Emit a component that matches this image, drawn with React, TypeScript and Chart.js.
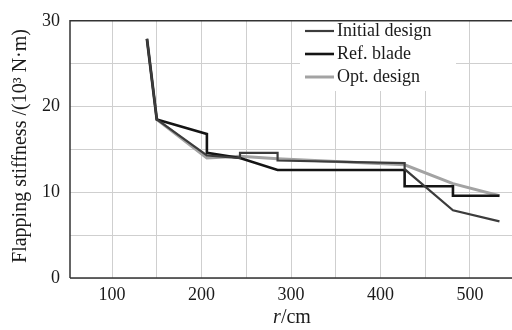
import React, { useEffect, useRef } from "react";
import { Chart, registerables } from "chart.js";

Chart.register(...registerables);

const seriesNames = ["Initial design", "Ref. blade", "Opt. design"];

const initX = [139, 150, 206, 243, 243, 285, 285, 427, 427, 481, 533];
const initY = [27.9, 18.5, 14.3, 14.0, 14.6, 14.6, 13.7, 13.4, 12.7, 7.9, 6.6];

const refX = [139, 150, 206, 206, 243, 285, 427, 427, 481, 481, 533];
const refY = [27.9, 18.5, 16.8, 14.6, 14.0, 12.6, 12.6, 10.7, 10.7, 9.6, 9.6];

const optX = [139, 150, 206, 243, 285, 427, 481, 533];
const optY = [27.9, 18.5, 14.0, 14.2, 13.9, 13.2, 11.0, 9.6];

const xGridValues = [100, 150, 200, 250, 300, 350, 400, 450, 500];
const xLabelValues = [100, 200, 300, 400, 500];
const yGridValues = [0, 5, 10, 15, 20, 25, 30];
const yLabelValues = [0, 10, 20, 30];

const colors = ["#3c3c3c", "#141414", "#a3a3a3"];
const widths = [2.2, 2.6, 3];

const FONT = "'Liberation Serif', 'DejaVu Serif', serif";

const toPts = (xs: number[], ys: number[]) => xs.map((x, i) => ({ x, y: ys[i] }));

const overlayPlugin = {
  id: "overlay",
  afterDraw(chart: any) {
    const { ctx, chartArea } = chart;
    ctx.save();

    // legend
    const lx = 300;
    const ly = 17;
    ctx.fillStyle = "#fff";
    ctx.fillRect(lx, ly, 156, 74);
    ctx.font = `18px ${FONT}`;
    ctx.textBaseline = "middle";
    ctx.textAlign = "left";
    seriesNames.forEach((name, i) => {
      const y = ly + 14 + i * 23;
      ctx.strokeStyle = colors[i];
      ctx.lineWidth = widths[i];
      ctx.beginPath();
      ctx.moveTo(lx + 5, y);
      ctx.lineTo(lx + 34, y);
      ctx.stroke();
      ctx.fillStyle = "#1a1a1a";
      ctx.fillText(name, lx + 37, y);
    });

    // frame
    ctx.strokeStyle = "#333";
    ctx.lineWidth = 1.5;
    ctx.beginPath();
    ctx.moveTo(chartArea.left, chartArea.bottom);
    ctx.lineTo(chartArea.left, chartArea.top);
    ctx.lineTo(chartArea.right, chartArea.top);
    ctx.stroke();
    ctx.beginPath();
    ctx.moveTo(chartArea.left, chartArea.bottom);
    ctx.lineTo(chartArea.right, chartArea.bottom);
    ctx.stroke();

    // y title
    ctx.save();
    ctx.translate(21, 146);
    ctx.rotate(-Math.PI / 2);
    ctx.textAlign = "center";
    ctx.textBaseline = "middle";
    ctx.fillStyle = "#1a1a1a";
    ctx.font = `20px ${FONT}`;
    ctx.fillText("Flapping stiffness /(10\u00b3 N\u00b7m)", 0, 0);
    ctx.restore();

    // x title: italic r + /cm
    ctx.fillStyle = "#1a1a1a";
    ctx.textBaseline = "middle";
    ctx.textAlign = "left";
    ctx.font = `italic 20px ${FONT}`;
    const rW = ctx.measureText("r").width;
    ctx.font = `20px ${FONT}`;
    const cmW = ctx.measureText("/cm").width;
    const start = 292 - (rW + cmW) / 2;
    ctx.font = `italic 20px ${FONT}`;
    ctx.fillText("r", start, 318);
    ctx.font = `20px ${FONT}`;
    ctx.fillText("/cm", start + rW, 318);
    ctx.restore();
  },
};

export default function App() {
  const ref = useRef<HTMLCanvasElement | null>(null);

  useEffect(() => {
    if (!ref.current) return;
    const chart = new Chart(ref.current, {
      type: "line",
      data: {
        datasets: [
          { label: seriesNames[0], data: toPts(initX, initY) },
          { label: seriesNames[1], data: toPts(refX, refY) },
          { label: seriesNames[2], data: toPts(optX, optY) },
        ].map((d, i) => ({
          ...d,
          borderColor: colors[i],
          backgroundColor: colors[i],
          borderWidth: widths[i],
          pointRadius: 0,
          tension: 0,
          fill: false,
        })) as any,
      },
      options: {
        animation: false,
        responsive: false,
        maintainAspectRatio: false,
        layout: { padding: { top: 13, right: 0, left: 0, bottom: 0 } },
        plugins: {
          legend: { display: false },
          tooltip: { enabled: false },
        },
        scales: {
          x: {
            type: "linear",
            min: 53,
            max: 547,
            afterBuildTicks: (axis: any) => {
              axis.ticks = xGridValues.map((v) => ({ value: v }));
            },
            afterFit: (axis: any) => {
              axis.height = 52;
            },
            ticks: {
              autoSkip: false,
              maxRotation: 0,
              padding: 6,
              color: "#1a1a1a",
              font: { family: FONT, size: 18 },
              callback: (v: any) => (xLabelValues.includes(Number(v)) ? String(v) : ""),
            },
            grid: { color: "#cfcfcf", lineWidth: 1, drawTicks: false },
            border: { display: false },
          },
          y: {
            type: "linear",
            min: 0,
            max: 30,
            afterBuildTicks: (axis: any) => {
              axis.ticks = yGridValues.map((v) => ({ value: v }));
            },
            afterFit: (axis: any) => {
              axis.width = 70;
            },
            ticks: {
              autoSkip: false,
              padding: 10,
              color: "#1a1a1a",
              font: { family: FONT, size: 18 },
              callback: (v: any) => (yLabelValues.includes(Number(v)) ? String(v) : ""),
            },
            grid: { color: "#cfcfcf", lineWidth: 1, drawTicks: false },
            border: { display: false },
          },
        },
      },
      plugins: [overlayPlugin],
    });
    return () => chart.destroy();
  }, []);

  return (
    <div style={{ position: "fixed", left: 0, top: 0, width: 512, height: 330, background: "#fff" }}>
      <canvas ref={ref} width={512} height={330} style={{ width: 512, height: 330, display: "block" }} />
    </div>
  );
}
